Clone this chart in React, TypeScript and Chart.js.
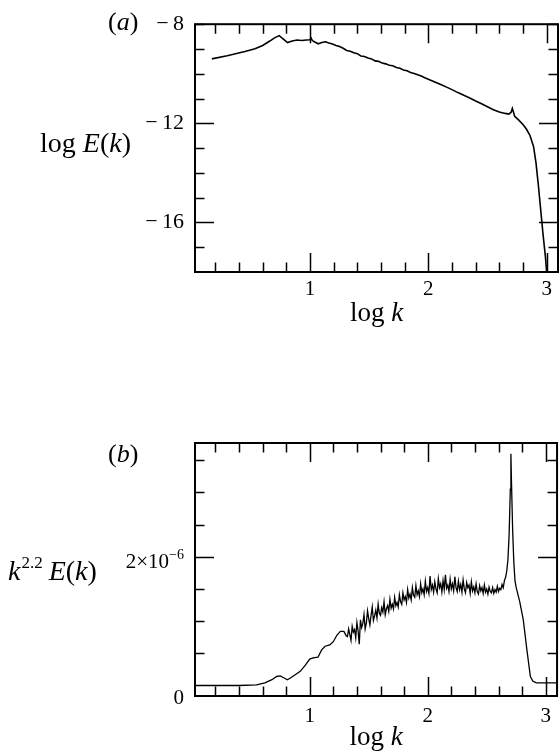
import React, { useEffect, useRef } from "react";
import { Chart, registerables } from "chart.js";
Chart.register(...registerables);

const SERIF = "'Liberation Serif', 'DejaVu Serif', serif";

// ---------- Panel (a): log E(k) vs log k ----------
const LOGK_A = [
  0.17, 0.30, 0.45, 0.535, 0.60, 0.66, 0.70, 0.74, 0.78, 0.81, 0.85, 0.89, 0.93, 0.97,
  1.00, 1.01, 1.02, 1.04, 1.07, 1.10, 1.13, 1.16, 1.19, 1.22, 1.25, 1.28, 1.31, 1.34,
  1.37, 1.40, 1.43, 1.46, 1.49, 1.52, 1.55, 1.58, 1.61, 1.64, 1.67, 1.70, 1.73, 1.76,
  1.79, 1.82, 1.85, 1.88, 1.91, 1.94, 1.97, 2.00, 2.05, 2.10, 2.15, 2.20, 2.25, 2.30,
  2.35, 2.40, 2.45, 2.50, 2.55, 2.60, 2.65, 2.68, 2.70, 2.71, 2.72, 2.73, 2.76, 2.80,
  2.83, 2.86, 2.89, 2.91, 2.93, 2.95, 2.97, 2.99, 3.00,
];
const LOGE_A = [
  -9.40, -9.27, -9.10, -8.99, -8.86, -8.68, -8.55, -8.46, -8.62, -8.74, -8.68, -8.64, -8.66, -8.64,
  -8.63, -8.57, -8.66, -8.72, -8.79, -8.74, -8.71, -8.76, -8.80, -8.86, -8.90, -8.97, -9.06, -9.09,
  -9.15, -9.19, -9.28, -9.30, -9.36, -9.40, -9.48, -9.50, -9.57, -9.60, -9.66, -9.68, -9.75, -9.78,
  -9.85, -9.88, -9.95, -9.99, -10.04, -10.09, -10.16, -10.22, -10.32, -10.42, -10.53, -10.64, -10.76, -10.87,
  -10.98, -11.10, -11.21, -11.33, -11.45, -11.54, -11.60, -11.63, -11.55, -11.40, -11.55, -11.72, -11.85, -12.05,
  -12.24, -12.50, -12.95, -13.60, -14.50, -15.50, -16.50, -17.40, -18.0,
];

// ---------- Panel (b): k^2.2 E(k) (units of 1e-6) vs log k ----------
const LOGK_B = [
  0.03, 0.20, 0.40, 0.55, 0.62, 0.68, 0.72, 0.75, 0.78, 0.81, 0.84, 0.88, 0.92, 0.96,
  1.00, 1.03, 1.07, 1.10, 1.13, 1.17, 1.20, 1.23, 1.26, 1.29, 1.31,
  1.32, 1.33, 1.34, 1.35, 1.36, 1.37, 1.38, 1.39, 1.40, 1.41, 1.42, 1.43, 1.44, 1.45, 1.46, 1.47, 1.48, 1.49,
  1.50, 1.51, 1.52, 1.53, 1.54, 1.55, 1.56, 1.57, 1.58, 1.59, 1.60, 1.61, 1.62, 1.63, 1.64, 1.65, 1.66, 1.67, 1.68, 1.69,
  1.70, 1.71, 1.72, 1.73, 1.74, 1.75, 1.76, 1.77, 1.78, 1.79, 1.80, 1.81, 1.82, 1.83, 1.84, 1.85, 1.86, 1.87, 1.88, 1.89,
  1.90, 1.91, 1.92, 1.93, 1.94, 1.95, 1.96, 1.97, 1.98, 1.99, 2.00, 2.01, 2.02, 2.03, 2.04, 2.05, 2.06, 2.07, 2.08, 2.09,
  2.10, 2.11, 2.12, 2.13, 2.14, 2.15, 2.16, 2.17, 2.18, 2.19, 2.20, 2.21, 2.22, 2.23, 2.24, 2.25, 2.26, 2.27, 2.28, 2.29,
  2.30, 2.31, 2.32, 2.33, 2.34, 2.35, 2.36, 2.37, 2.38, 2.39, 2.40, 2.41, 2.42, 2.43, 2.44, 2.45, 2.46, 2.47, 2.48, 2.49,
  2.50, 2.51, 2.52, 2.53, 2.54, 2.55, 2.56, 2.57, 2.58, 2.59, 2.60, 2.61, 2.62, 2.63, 2.64, 2.65, 2.66,
  2.67, 2.68, 2.69, 2.70, 2.705, 2.71, 2.72, 2.73, 2.74, 2.75, 2.78, 2.81, 2.84, 2.87, 2.89, 2.92, 2.98, 3.10,
];
const COMP_B = [
  0.00, 0.00, 0.00, 0.01, 0.04, 0.09, 0.14, 0.15, 0.12, 0.09, 0.12, 0.17, 0.22, 0.31,
  0.41, 0.43, 0.44, 0.55, 0.61, 0.63, 0.68, 0.78, 0.84, 0.84, 0.77,
  0.76, 0.88, 0.79, 0.70, 0.92, 0.83, 0.87, 0.74, 0.98, 0.85, 0.64, 1.02, 0.90, 0.96, 1.10, 0.88, 0.97, 1.16,
  1.04, 0.94, 1.09, 1.22, 1.01, 1.08, 1.17, 1.05, 1.26, 1.12, 1.09, 1.21, 1.14, 1.30, 1.10, 1.19, 1.24, 1.15, 1.34, 1.20,
  1.26, 1.19, 1.37, 1.24, 1.29, 1.22, 1.41, 1.30, 1.26, 1.44, 1.33, 1.38, 1.29, 1.49, 1.36, 1.42, 1.33, 1.52, 1.40, 1.37,
  1.55, 1.41, 1.47, 1.38, 1.58, 1.44, 1.50, 1.41, 1.62, 1.46, 1.52, 1.43, 1.70, 1.49, 1.56, 1.45, 1.61, 1.50, 1.44, 1.66,
  1.52, 1.58, 1.45, 1.63, 1.49, 1.72, 1.51, 1.56, 1.46, 1.65, 1.50, 1.58, 1.47, 1.69, 1.52, 1.46, 1.62, 1.49, 1.57, 1.45,
  1.64, 1.50, 1.44, 1.60, 1.52, 1.56, 1.43, 1.61, 1.47, 1.53, 1.44, 1.58, 1.46, 1.42, 1.55, 1.47, 1.52, 1.43, 1.56, 1.45,
  1.50, 1.42, 1.53, 1.46, 1.44, 1.52, 1.43, 1.49, 1.45, 1.54, 1.46, 1.51, 1.49, 1.57, 1.52, 1.63, 1.68,
  1.78, 1.96, 2.35, 3.05, 3.60, 3.15, 2.40, 1.90, 1.62, 1.52, 1.30, 1.02, 0.56, 0.14, 0.07, 0.04, 0.04, 0.04,
];

// ---------- Axes ----------
const X_TICKS = [0.2, 0.4, 0.6, 0.8, 1, 1.2, 1.4, 1.6, 1.8, 2, 2.2, 2.4, 2.6, 2.8, 3];
const X_LABELED = [1, 2, 3];
const Y_TICKS_A = [-17, -16, -15, -14, -13, -12, -11, -10, -9, -8];
const Y_MAJOR_A = [-16, -12];
const Y_LABELED_A = [-16, -12, -8];
const Y_TICKS_B = [0.5, 1, 1.5, 2, 2.5, 3, 3.5];
const Y_MAJOR_B = [2];

type Part = { t: string; size: number; italic?: boolean; dy?: number; gap?: number };

function richWidth(ctx: CanvasRenderingContext2D, parts: Part[]) {
  let w = 0;
  for (const p of parts) {
    ctx.font = `${p.italic ? "italic " : ""}${p.size}px ${SERIF}`;
    w += ctx.measureText(p.t).width + (p.gap || 0);
  }
  return w;
}

function drawRich(ctx: CanvasRenderingContext2D, x: number, y: number, parts: Part[], align: "left" | "center" | "right" = "left") {
  const w = richWidth(ctx, parts);
  let cx = align === "left" ? x : align === "center" ? x - w / 2 : x - w;
  ctx.save();
  ctx.fillStyle = "#000";
  ctx.textAlign = "left";
  ctx.textBaseline = "alphabetic";
  for (const p of parts) {
    ctx.font = `${p.italic ? "italic " : ""}${p.size}px ${SERIF}`;
    ctx.fillText(p.t, cx, y - (p.dy || 0));
    cx += ctx.measureText(p.t).width + (p.gap || 0);
  }
  ctx.restore();
}

function isInt(v: number) {
  return Math.abs(v - Math.round(v)) < 1e-6;
}

function framePlugin(yTicks: number[], yMajor: number[], drawTexts: (chart: any, ctx: CanvasRenderingContext2D) => void) {
  return {
    id: "frameTicks",
    afterDraw(chart: any) {
      const ctx: CanvasRenderingContext2D = chart.ctx;
      const { left, right, top, bottom } = chart.chartArea;
      const xs = chart.scales.x;
      const ys = chart.scales.y;
      ctx.save();
      ctx.strokeStyle = "#000";
      ctx.lineWidth = 1.5;
      ctx.beginPath();
      for (const v of X_TICKS) {
        const px = Math.round(xs.getPixelForValue(v)) + 0.5;
        const len = isInt(v) ? 19 : 9.5;
        ctx.moveTo(px, bottom);
        ctx.lineTo(px, bottom - len);
        ctx.moveTo(px, top);
        ctx.lineTo(px, top + len);
      }
      for (const v of yTicks) {
        const py = Math.round(ys.getPixelForValue(v)) + 0.5;
        const len = yMajor.includes(v) ? 19 : 9.5;
        ctx.moveTo(left, py);
        ctx.lineTo(left + len, py);
        ctx.moveTo(right, py);
        ctx.lineTo(right - len, py);
      }
      ctx.stroke();
      ctx.lineWidth = 2;
      ctx.strokeRect(left, top, right - left, bottom - top);
      ctx.restore();
      drawTexts(chart, ctx);
    },
  };
}

function xScale(height: number, pad: number) {
  return {
    type: "linear" as const,
    min: 0.028,
    max: 3.096,
    afterFit: (s: any) => {
      s.height = height;
    },
    afterBuildTicks: (s: any) => {
      s.ticks = X_TICKS.map((v) => ({ value: v }));
    },
    grid: { display: false, drawTicks: false },
    border: { display: false },
    ticks: {
      autoSkip: false,
      maxRotation: 0,
      padding: pad,
      color: "#000",
      font: { family: SERIF, size: 21 },
      callback: (v: any) => (X_LABELED.some((l) => Math.abs(l - v) < 1e-6) ? String(Math.round(v)) : ""),
    },
  };
}

function PanelA() {
  const ref = useRef<HTMLCanvasElement>(null);
  useEffect(() => {
    const canvas = ref.current!;
    const chart = new Chart(canvas, {
      type: "line",
      data: {
        datasets: [
          {
            data: LOGK_A.map((x, i) => ({ x, y: LOGE_A[i] })),
            borderColor: "#000",
            borderWidth: 1.6,
            pointRadius: 0,
            tension: 0,
            fill: false,
          },
        ],
      },
      options: {
        responsive: false,
        maintainAspectRatio: false,
        animation: false,
        devicePixelRatio: 1,
        layout: { padding: { top: 17, right: 1, left: 0, bottom: 0 } },
        plugins: { legend: { display: false }, tooltip: { enabled: false } },
        scales: {
          x: xScale(73, 5),
          y: {
            type: "linear",
            min: -18,
            max: -8,
            afterFit: (s: any) => {
              s.width = 195;
            },
            afterBuildTicks: (s: any) => {
              s.ticks = Y_TICKS_A.map((v) => ({ value: v }));
            },
            grid: { display: false, drawTicks: false },
            border: { display: false },
            ticks: {
              autoSkip: false,
              padding: 11,
              color: "#000",
              font: { family: SERIF, size: 22 },
              callback: (v: any) => (Y_LABELED_A.includes(v) ? "\u2212\u2009" + Math.abs(v) : ""),
            },
          },
        },
      },
      plugins: [
        framePlugin(Y_TICKS_A, Y_MAJOR_A, (chart, ctx) => {
          const { left, right, bottom } = chart.chartArea;
          drawRich(ctx, 108, 30, [
            { t: "(", size: 26 },
            { t: "a", size: 26, italic: true },
            { t: ")", size: 26 },
          ]);
          drawRich(ctx, 40, 152, [
            { t: "log ", size: 28 },
            { t: "E", size: 28, italic: true },
            { t: "(", size: 28 },
            { t: "k", size: 28, italic: true },
            { t: ")", size: 28 },
          ]);
          drawRich(ctx, (left + right) / 2, bottom + 49, [
            { t: "log ", size: 27 },
            { t: "k", size: 27, italic: true },
          ], "center");
        }),
      ],
    } as any);
    return () => chart.destroy();
  }, []);
  return <canvas ref={ref} width={559} height={345} style={{ position: "absolute", left: 0, top: 0, width: 559, height: 345 }} />;
}

function PanelB() {
  const ref = useRef<HTMLCanvasElement>(null);
  useEffect(() => {
    const canvas = ref.current!;
    const chart = new Chart(canvas, {
      type: "line",
      data: {
        datasets: [
          {
            data: LOGK_B.map((x, i) => ({ x, y: COMP_B[i] })),
            borderColor: "#000",
            borderWidth: 1.3,
            pointRadius: 0,
            tension: 0,
            fill: false,
          },
        ],
      },
      options: {
        responsive: false,
        maintainAspectRatio: false,
        animation: false,
        devicePixelRatio: 1,
        layout: { padding: { top: 43, right: 1, left: 0, bottom: 0 } },
        plugins: { legend: { display: false }, tooltip: { enabled: false } },
        scales: {
          x: xScale(56, 8),
          y: {
            type: "linear",
            min: -0.163,
            max: 3.766,
            afterFit: (s: any) => {
              s.width = 195;
            },
            afterBuildTicks: (s: any) => {
              s.ticks = Y_TICKS_B.map((v) => ({ value: v }));
            },
            grid: { display: false, drawTicks: false },
            border: { display: false },
            ticks: { display: false },
          },
        },
      },
      plugins: [
        framePlugin(Y_TICKS_B, Y_MAJOR_B, (chart, ctx) => {
          const { left, right, bottom } = chart.chartArea;
          const ys = chart.scales.y;
          drawRich(ctx, 108, 62, [
            { t: "(", size: 26 },
            { t: "b", size: 26, italic: true },
            { t: ")", size: 26 },
          ]);
          drawRich(ctx, 8, 180, [
            { t: "k", size: 28, italic: true, gap: 1 },
            { t: "2.2", size: 17, dy: 12, gap: 6 },
            { t: "E", size: 28, italic: true },
            { t: "(", size: 28 },
            { t: "k", size: 28, italic: true },
            { t: ")", size: 28 },
          ]);
          const y2 = ys.getPixelForValue(2);
          drawRich(ctx, 184, y2 + 11, [
            { t: "2\u00d710", size: 21 },
            { t: "\u22126", size: 14, dy: 9 },
          ], "right");
          drawRich(ctx, 184, bottom + 8, [{ t: "0", size: 21 }], "right");
          drawRich(ctx, (left + right) / 2, bottom + 49, [
            { t: "log ", size: 27 },
            { t: "k", size: 27, italic: true },
          ], "center");
        }),
      ],
    } as any);
    return () => chart.destroy();
  }, []);
  return <canvas ref={ref} width={559} height={352} style={{ position: "absolute", left: 0, top: 400, width: 559, height: 352 }} />;
}

export default function App() {
  return (
    <div style={{ position: "fixed", left: 0, top: 0, width: 559, height: 752, background: "#fff", overflow: "hidden" }}>
      <PanelA />
      <PanelB />
    </div>
  );
}
